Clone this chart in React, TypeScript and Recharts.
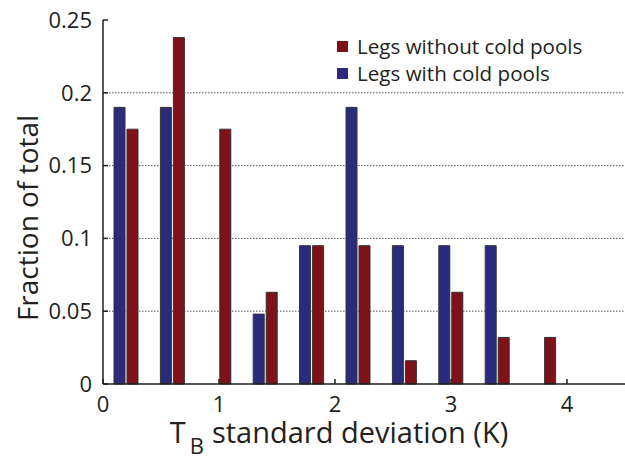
import React from 'react';
import { BarChart, Bar, XAxis, YAxis, CartesianGrid, Legend, Label } from 'recharts';

// bin centres of the T_B standard deviation histogram (K)
const binCenters = [0.2, 0.6, 1.0, 1.4, 1.8, 2.2, 2.6, 3.0, 3.4, 3.8];
const withColdPools = [0.19, 0.19, 0, 0.048, 0.095, 0.19, 0.095, 0.095, 0.095, 0];
const withoutColdPools = [0.175, 0.238, 0.175, 0.063, 0.095, 0.095, 0.016, 0.063, 0.032, 0.032];

const xTicks = [0, 1, 2, 3, 4];
const yTicks = [0, 0.05, 0.1, 0.15, 0.2, 0.25];

const legendItems = [
  { label: 'Legs without cold pools', color: '#7e1218' },
  { label: 'Legs with cold pools', color: '#2a2b7c' },
];

const FONT = '"Open Sans", "Noto Sans", sans-serif';
const INK = '#231f20';

const data = binCenters.map((x, i) => ({
  x,
  with: withColdPools[i],
  without: withoutColdPools[i],
}));

const fmtY = (v: number) => (v === 0 ? '0' : String(v));

const CustomLegend = () => (
  <div style={{ fontFamily: FONT, fontSize: 20.6, color: INK, lineHeight: '27px' }}>
    {legendItems.map((item) => (
      <div key={item.label} style={{ display: 'flex', alignItems: 'center' }}>
        <span
          style={{ display: 'inline-block', width: 11, height: 11, background: item.color, marginRight: 9 }}
        />
        <span>{item.label}</span>
      </div>
    ))}
  </div>
);

const XTitle = ({ viewBox }: any) => {
  const cx = viewBox.x + viewBox.width / 2 - 25;
  const y = viewBox.y + viewBox.height - 15;
  return (
    <text x={cx} y={y} textAnchor="middle" fontFamily={FONT} fontSize={29} fill={INK}>
      T
      <tspan fontSize={22} dx={4} dy={11}>B</tspan>
      <tspan dx={8} dy={-11}>standard deviation (K)</tspan>
    </text>
  );
};

const YTitle = ({ viewBox }: any) => {
  const cx = viewBox.x + 38;
  const cy = viewBox.y + viewBox.height / 2 + 16;
  return (
    <text
      x={cx}
      y={cy}
      transform={`rotate(-90, ${cx}, ${cy})`}
      textAnchor="middle"
      fontFamily={FONT}
      fontSize={28}
      fill={INK}
    >
      Fraction of total
    </text>
  );
};

export default function App() {
  return (
    <div style={{ position: 'absolute', left: 0, top: 0, background: '#fff' }}>
      <BarChart
        width={625}
        height={458}
        data={data}
        margin={{ top: 20, right: 0, bottom: 0, left: 0 }}
        barSize={11}
        barGap={2}
      >
        <CartesianGrid
          horizontal
          vertical={false}
          stroke="#555"
          strokeDasharray="1.5 1.5"
          horizontalValues={[0.05, 0.1, 0.15, 0.2]}
          yAxisId="left"
        />
        <XAxis
          dataKey="x"
          type="number"
          domain={[0, 4.5]}
          ticks={xTicks}
          allowDataOverflow
          height={74}
          tickSize={-5}
          tickMargin={17}
          stroke={INK}
          strokeWidth={1.5}
          tick={{ fontFamily: FONT, fontSize: 22, fill: INK }}
        >
          <Label content={<XTitle />} />
        </XAxis>
        <XAxis
          xAxisId="top"
          orientation="top"
          dataKey="x"
          type="number"
          domain={[0, 4.5]}
          ticks={xTicks}
          allowDataOverflow
          height={0}
          tickSize={-5}
          tick={() => null}
          stroke={INK}
          strokeWidth={1.5}
        />
        <YAxis
          yAxisId="left"
          domain={[0, 0.25]}
          ticks={yTicks}
          width={103}
          tickSize={-5}
          tickMargin={16}
          tickFormatter={fmtY}
          stroke={INK}
          strokeWidth={1.5}
          tick={{ fontFamily: FONT, fontSize: 22, fill: INK }}
        >
          <Label content={<YTitle />} />
        </YAxis>
        <YAxis
          yAxisId="right"
          orientation="right"
          domain={[0, 0.25]}
          ticks={yTicks}
          width={0}
          tickSize={-5}
          tick={() => null}
          stroke={INK}
          strokeWidth={1.5}
        />
        <Legend
          content={<CustomLegend />}
          layout="vertical"
          verticalAlign="middle"
          align="center"
          wrapperStyle={{ top: 33, left: 337, width: 280 }}
        />
        <Bar
          dataKey="with"
          yAxisId="left"
          fill="#2a2b7c"
          stroke="#333"
          strokeWidth={1}
          isAnimationActive={false}
        />
        <Bar
          dataKey="without"
          yAxisId="left"
          fill="#7e1218"
          stroke="#333"
          strokeWidth={1}
          isAnimationActive={false}
        />
      </BarChart>
    </div>
  );
}
